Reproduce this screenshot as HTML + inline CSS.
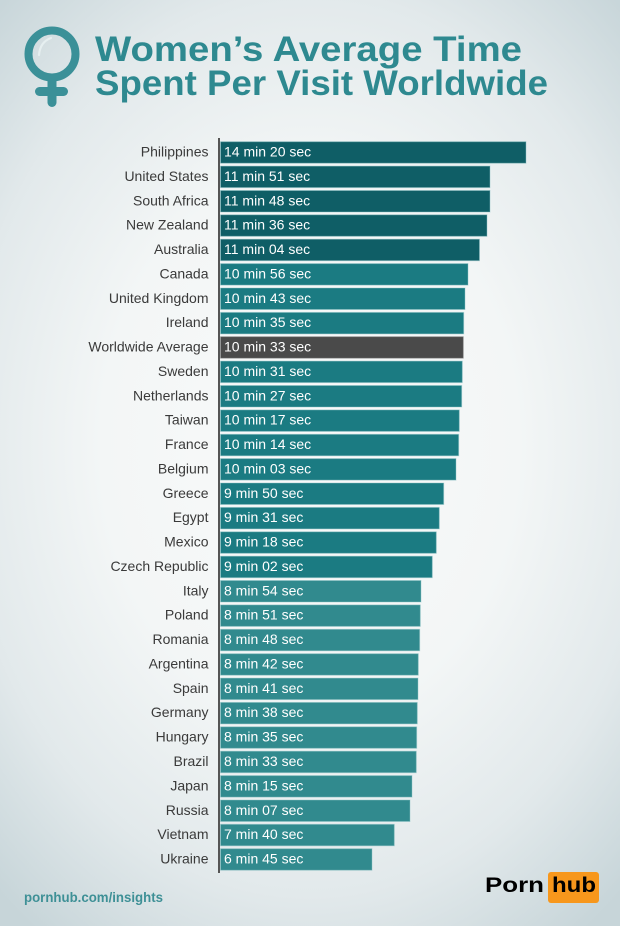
<!DOCTYPE html>
<html>
<head>
<meta charset="utf-8">
<style>
html,body{margin:0;padding:0;}
body{width:620px;height:926px;overflow:hidden;
background:radial-gradient(ellipse 75% 65% at 50% 48%, #f9fafa 0%, #f3f6f6 45%, #e2e9eb 75%, #c7d5d9 100%);}
svg{display:block;}
.lbl{font-family:"Liberation Sans",sans-serif;font-size:14px;fill:#3a3a3a;text-anchor:end;}
.val{font-family:"Liberation Sans",sans-serif;font-size:14px;fill:#ffffff;}
</style>
</head>
<body>
<svg width="620" height="926" viewBox="0 0 620 926" xmlns="http://www.w3.org/2000/svg">
  <!-- female icon -->
  <g fill="none" stroke="#3b9098">
    <circle cx="52" cy="54" r="23.5" stroke-width="8"/>
  </g>
  <rect x="47.5" y="74" width="9" height="33" rx="4.5" fill="#3b9098"/>
  <rect x="35" y="87" width="33" height="9" rx="4.5" fill="#3b9098"/>
  <path d="M39 55 Q40 42 51 38" fill="none" stroke="#e6eff0" stroke-width="2.2" stroke-linecap="round"/>

  <!-- title -->
  <g font-family="'Liberation Sans',sans-serif" font-weight="bold" font-size="35" fill="#2e8990">
    <text x="95" y="61" textLength="427" lengthAdjust="spacingAndGlyphs">Women’s Average Time</text>
    <text x="95" y="95" textLength="453" lengthAdjust="spacingAndGlyphs">Spent Per Visit Worldwide</text>
  </g>

  <!-- axis -->
  <rect x="218" y="138" width="2" height="735" fill="#555"/>

  <!-- bars -->
  <g stroke="#8fc3c5" stroke-opacity="0.45" stroke-width="1">
    <rect x="220.5" y="141.7" width="305.5" height="21.5" fill="#0f5e66"/>
    <rect x="220.5" y="166.1" width="269.5" height="21.5" fill="#0f5e66"/>
    <rect x="220.5" y="190.5" width="269.5" height="21.5" fill="#0f5e66"/>
    <rect x="220.5" y="214.8" width="266.5" height="21.5" fill="#0f5e66"/>
    <rect x="220.5" y="239.2" width="259" height="21.5" fill="#0f5e66"/>
    <rect x="220.5" y="263.6" width="247.5" height="21.5" fill="#1b7b82"/>
    <rect x="220.5" y="288.0" width="244.5" height="21.5" fill="#1b7b82"/>
    <rect x="220.5" y="312.4" width="243.2" height="21.5" fill="#1b7b82"/>
    <rect x="220.5" y="336.7" width="242.8" height="21.5" fill="#4a4a4a" stroke="#8a8a8a"/>
    <rect x="220.5" y="361.1" width="241.8" height="21.5" fill="#1b7b82"/>
    <rect x="220.5" y="385.5" width="241.2" height="21.5" fill="#1b7b82"/>
    <rect x="220.5" y="409.9" width="238.8" height="21.5" fill="#1b7b82"/>
    <rect x="220.5" y="434.3" width="238.2" height="21.5" fill="#1b7b82"/>
    <rect x="220.5" y="458.6" width="235.5" height="21.5" fill="#1b7b82"/>
    <rect x="220.5" y="483.0" width="223.2" height="21.5" fill="#1b7b82"/>
    <rect x="220.5" y="507.4" width="218.8" height="21.5" fill="#1b7b82"/>
    <rect x="220.5" y="531.8" width="215.8" height="21.5" fill="#1b7b82"/>
    <rect x="220.5" y="556.2" width="211.8" height="21.5" fill="#1b7b82"/>
    <rect x="220.5" y="580.5" width="200.5" height="21.5" fill="#318a8e"/>
    <rect x="220.5" y="604.9" width="199.8" height="21.5" fill="#318a8e"/>
    <rect x="220.5" y="629.3" width="199.2" height="21.5" fill="#318a8e"/>
    <rect x="220.5" y="653.7" width="197.8" height="21.5" fill="#318a8e"/>
    <rect x="220.5" y="678.1" width="197.5" height="21.5" fill="#318a8e"/>
    <rect x="220.5" y="702.4" width="196.8" height="21.5" fill="#318a8e"/>
    <rect x="220.5" y="726.8" width="196.2" height="21.5" fill="#318a8e"/>
    <rect x="220.5" y="751.2" width="195.8" height="21.5" fill="#318a8e"/>
    <rect x="220.5" y="775.6" width="191.5" height="21.5" fill="#318a8e"/>
    <rect x="220.5" y="800.0" width="189.5" height="21.5" fill="#318a8e"/>
    <rect x="220.5" y="824.3" width="173.8" height="21.5" fill="#318a8e"/>
    <rect x="220.5" y="848.7" width="151.5" height="21.5" fill="#318a8e"/>
  </g>

  <!-- labels -->
  <g class="lbl">
    <text class="lbl" x="208.5" y="156.5">Philippines</text>
    <text class="lbl" x="208.5" y="180.9">United States</text>
    <text class="lbl" x="208.5" y="205.3">South Africa</text>
    <text class="lbl" x="208.5" y="229.6">New Zealand</text>
    <text class="lbl" x="208.5" y="254.0">Australia</text>
    <text class="lbl" x="208.5" y="278.4">Canada</text>
    <text class="lbl" x="208.5" y="302.8">United Kingdom</text>
    <text class="lbl" x="208.5" y="327.2">Ireland</text>
    <text class="lbl" x="208.5" y="351.5">Worldwide Average</text>
    <text class="lbl" x="208.5" y="375.9">Sweden</text>
    <text class="lbl" x="208.5" y="400.3">Netherlands</text>
    <text class="lbl" x="208.5" y="424.7">Taiwan</text>
    <text class="lbl" x="208.5" y="449.1">France</text>
    <text class="lbl" x="208.5" y="473.4">Belgium</text>
    <text class="lbl" x="208.5" y="497.8">Greece</text>
    <text class="lbl" x="208.5" y="522.2">Egypt</text>
    <text class="lbl" x="208.5" y="546.6">Mexico</text>
    <text class="lbl" x="208.5" y="571.0">Czech Republic</text>
    <text class="lbl" x="208.5" y="595.3">Italy</text>
    <text class="lbl" x="208.5" y="619.7">Poland</text>
    <text class="lbl" x="208.5" y="644.1">Romania</text>
    <text class="lbl" x="208.5" y="668.5">Argentina</text>
    <text class="lbl" x="208.5" y="692.9">Spain</text>
    <text class="lbl" x="208.5" y="717.2">Germany</text>
    <text class="lbl" x="208.5" y="741.6">Hungary</text>
    <text class="lbl" x="208.5" y="766.0">Brazil</text>
    <text class="lbl" x="208.5" y="790.4">Japan</text>
    <text class="lbl" x="208.5" y="814.8">Russia</text>
    <text class="lbl" x="208.5" y="839.1">Vietnam</text>
    <text class="lbl" x="208.5" y="863.5">Ukraine</text>
  </g>

  <!-- values -->
  <g>
    <text class="val" x="224" y="156.5">14 min 20 sec</text>
    <text class="val" x="224" y="180.9">11 min 51 sec</text>
    <text class="val" x="224" y="205.3">11 min 48 sec</text>
    <text class="val" x="224" y="229.6">11 min 36 sec</text>
    <text class="val" x="224" y="254.0">11 min 04 sec</text>
    <text class="val" x="224" y="278.4">10 min 56 sec</text>
    <text class="val" x="224" y="302.8">10 min 43 sec</text>
    <text class="val" x="224" y="327.2">10 min 35 sec</text>
    <text class="val" x="224" y="351.5">10 min 33 sec</text>
    <text class="val" x="224" y="375.9">10 min 31 sec</text>
    <text class="val" x="224" y="400.3">10 min 27 sec</text>
    <text class="val" x="224" y="424.7">10 min 17 sec</text>
    <text class="val" x="224" y="449.1">10 min 14 sec</text>
    <text class="val" x="224" y="473.4">10 min 03 sec</text>
    <text class="val" x="224" y="497.8">9 min 50 sec</text>
    <text class="val" x="224" y="522.2">9 min 31 sec</text>
    <text class="val" x="224" y="546.6">9 min 18 sec</text>
    <text class="val" x="224" y="571.0">9 min 02 sec</text>
    <text class="val" x="224" y="595.3">8 min 54 sec</text>
    <text class="val" x="224" y="619.7">8 min 51 sec</text>
    <text class="val" x="224" y="644.1">8 min 48 sec</text>
    <text class="val" x="224" y="668.5">8 min 42 sec</text>
    <text class="val" x="224" y="692.9">8 min 41 sec</text>
    <text class="val" x="224" y="717.2">8 min 38 sec</text>
    <text class="val" x="224" y="741.6">8 min 35 sec</text>
    <text class="val" x="224" y="766.0">8 min 33 sec</text>
    <text class="val" x="224" y="790.4">8 min 15 sec</text>
    <text class="val" x="224" y="814.8">8 min 07 sec</text>
    <text class="val" x="224" y="839.1">7 min 40 sec</text>
    <text class="val" x="224" y="863.5">6 min 45 sec</text>
  </g>

  <!-- footer -->
  <text x="24" y="902" font-family="'Liberation Sans',sans-serif" font-weight="bold" font-size="13.5" fill="#3e9096" textLength="139" lengthAdjust="spacingAndGlyphs">pornhub.com/insights</text>

  <!-- logo -->
  <text x="485" y="892" font-family="'Liberation Sans',sans-serif" font-weight="bold" font-size="21" fill="#000" textLength="59" lengthAdjust="spacingAndGlyphs">Porn</text>
  <rect x="548" y="872" width="51" height="31" rx="3" fill="#f7971c"/>
  <text x="552" y="892" font-family="'Liberation Sans',sans-serif" font-weight="bold" font-size="21" fill="#000" textLength="44" lengthAdjust="spacingAndGlyphs">hub</text>
</svg>
</body>
</html>
